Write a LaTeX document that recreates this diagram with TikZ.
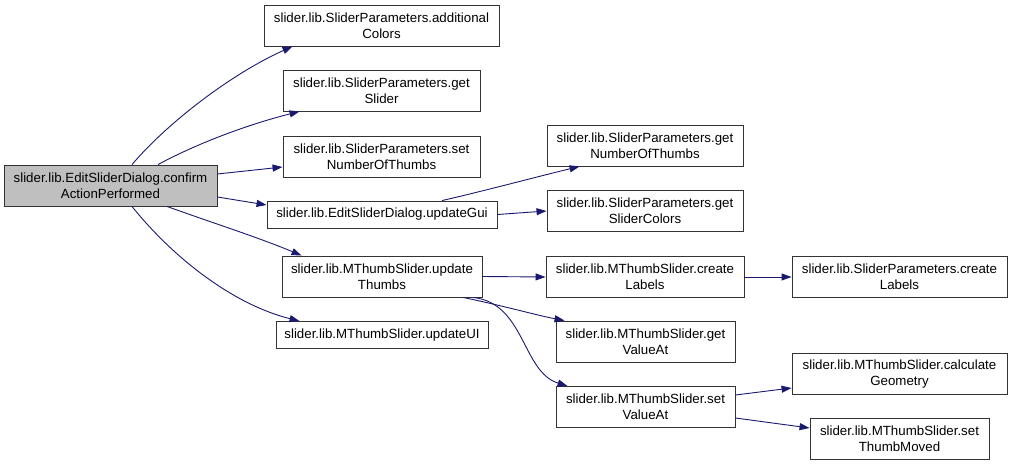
\documentclass[tikz,border=0pt]{standalone}
\usepackage{fontspec}
\setmainfont{Liberation Sans}
\usetikzlibrary{arrows.meta,calc}
\definecolor{edgeblue}{HTML}{191970}
\definecolor{rootgray}{HTML}{BFBFBF}
\begin{document}
\begin{tikzpicture}[x=1pt,y=-1pt,
  fn/.style={draw=black!80,line width=0.9pt,fill=white,align=center,inner sep=0pt,
    font=\fontsize{13.3}{15.6}\selectfont,minimum height=41pt},
  call/.style={draw=edgeblue,line width=0.9pt,-{Triangle[length=10pt,width=7pt]}}]
\useasboundingbox (0,0) rectangle (1012,465);
\node[fn,fill=rootgray,minimum width=213pt] (root) at (110.5,185.5) {slider.lib.EditSliderDialog.confirm\\ActionPerformed};
\node[fn,minimum width=235pt] (n2) at (381.5,25.5) {slider.lib.SliderParameters.additional\\Colors};
\node[fn,minimum width=197pt] (n3) at (381.5,90.5) {slider.lib.SliderParameters.get\\Slider};
\node[fn,minimum width=197pt] (n4) at (381.5,156.5) {slider.lib.SliderParameters.set\\NumberOfThumbs};
\node[fn,minimum width=230pt,minimum height=27pt] (n5) at (382,214.5) {slider.lib.EditSliderDialog.updateGui};
\node[fn,minimum width=200pt] (n6) at (382,276.5) {slider.lib.MThumbSlider.update\\Thumbs};
\node[fn,minimum width=212pt,minimum height=27pt] (n7) at (382,335) {slider.lib.MThumbSlider.updateUI};
\node[fn,minimum width=196pt] (n8) at (645,145.5) {slider.lib.SliderParameters.get\\NumberOfThumbs};
\node[fn,minimum width=196pt] (n9) at (645,211) {slider.lib.SliderParameters.get\\SliderColors};
\node[fn,minimum width=198pt] (n10) at (645,277) {slider.lib.MThumbSlider.create\\Labels};
\node[fn,minimum width=215pt] (n11) at (899.5,277) {slider.lib.SliderParameters.create\\Labels};
\node[fn,minimum width=179pt] (n12) at (645.5,341.5) {slider.lib.MThumbSlider.get\\ValueAt};
\node[fn,minimum width=179pt] (n13) at (645.5,407) {slider.lib.MThumbSlider.set\\ValueAt};
\node[fn,minimum width=215pt] (n14) at (899.5,374) {slider.lib.MThumbSlider.calculate\\Geometry};
\node[fn,minimum width=179pt] (n15) at (899.5,439) {slider.lib.MThumbSlider.set\\ThumbMoved};

\draw[call] ($(root.north)+(21.5,0)$) .. controls (170,120) and (235,72) .. ($(n2.south west)+(29,0)$);
\draw[call] ($(root.north)+(47.5,0)$) .. controls (200,142) and (250,124) .. ($(n3.south west)+(17,0)$);
\draw[call] ($(root.east)+(0,-11.5)$) -- ($(n4.west)+(0,10.5)$);
\draw[call] ($(root.east)+(0,11.5)$) -- ($(n5.west)+(0,-9.5)$);
\draw[call] ($(root.south)+(56.5,0)$) .. controls (210,222) and (260,238) .. ($(n6.north west)+(20,0)$);
\draw[call] ($(root.south)+(21.5,0)$) .. controls (175,260) and (235,305) .. ($(n7.north west)+(24,0)$);
\draw[call] ($(n5.north)+(60,0)$) .. controls (480,192) and (540,176) .. ($(n8.south west)+(33,0)$);
\draw[call] (n5.east) -- (n9.west);
\draw[call] (n6.east) -- (n10.west);
\draw[call] ($(n6.south)+(81,0)$) .. controls (500,305) and (540,316) .. ($(n12.north west)+(9,0)$);
\draw[call] ($(n6.south)+(91,0)$) .. controls (525,303) and (522,372) .. ($(n13.north west)+(12,0)$);
\draw[call] (n10.east) -- (n11.west);
\draw[call] ($(n13.east)+(0,-12)$) -- ($(n14.west)+(0,14)$);
\draw[call] ($(n13.east)+(0,11)$) -- ($(n15.west)+(0,-11)$);
\end{tikzpicture}
\end{document}
